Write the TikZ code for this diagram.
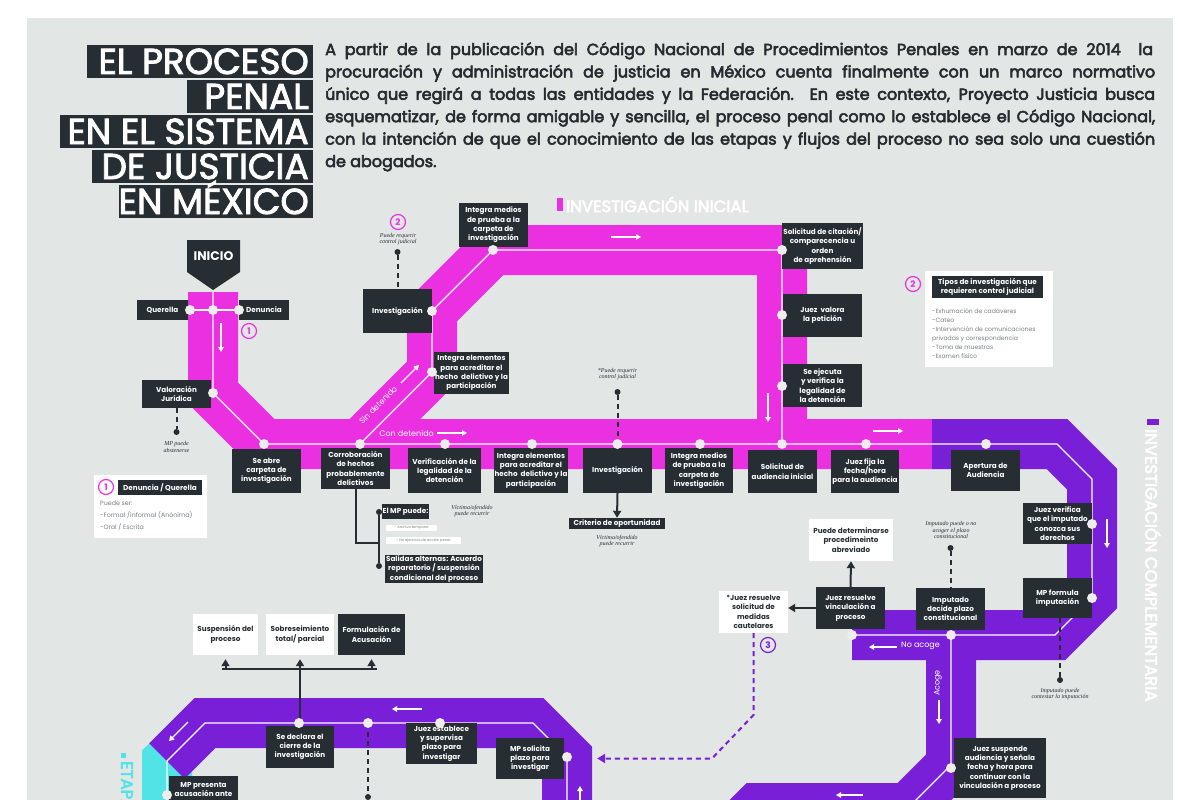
\documentclass[tikz,border=0pt]{standalone}
\usepackage{fontspec}
\setmainfont{Poppins}
\newfontfamily\parf{Poppins}[FakeBold=3.5]
\newfontfamily\titf{Poppins}[FakeBold=2.5]
\newfontfamily\handf{Liberation Serif}
\usetikzlibrary{arrows.meta}
\definecolor{bgc}{HTML}{E2E6E5}
\definecolor{pinkc}{HTML}{EA30E0}
\definecolor{purc}{HTML}{7A1FD8}
\definecolor{cyanc}{HTML}{52E3E6}
\definecolor{boxc}{HTML}{262D33}
\definecolor{dotc}{HTML}{EDEDED}
\definecolor{txtc}{HTML}{262B30}
\definecolor{grayt}{HTML}{7A7F82}
\newcommand\bxfont{\fontsize{7.2}{9.3}\selectfont\bfseries}
\newcommand\handfont{\handf\itshape\fontsize{6}{6.6}\selectfont}
\newcommand\BX[7]{\node[#1, minimum width={(#5-#3)*1pt}, minimum height={(#6-#4)*1pt}] (#2) at ({(#3+#5)/2},{(#4+#6)/2}) {#7};}
\tikzset{
  band/.style={line width=50pt, line join=miter, line cap=butt},
  thinl/.style={draw=white, line width=1.3pt, line join=miter},
  warr/.style={draw=white, line width=1.4pt, -{Triangle[length=5pt,width=5.5pt]}},
  dot/.style={circle, fill=dotc, inner sep=0pt, minimum size=10pt},
  bdot/.style={circle, fill=boxc, inner sep=0pt, minimum size=6pt},
  dsh/.style={draw=boxc, line width=2pt, dash pattern=on 5pt off 4pt},
  barw/.style={draw=boxc, line width=2pt, -{Triangle[length=7pt,width=8pt]}},
  pdash/.style={draw=purc, line width=2pt, dash pattern=on 5pt off 4pt, -{Triangle[length=8pt,width=9pt]}},
  numc/.style={circle, draw=#1, text=#1, line width=1.2pt, minimum size=15pt, inner sep=0pt, font=\bfseries\fontsize{9}{9}\selectfont},
  dbx/.style={fill=boxc, text=white, font=\bxfont, align=center, inner sep=1pt},
  wbx/.style={fill=white, text=boxc, font=\bxfont, align=center, inner sep=1pt},
  sbx/.style={fill=white, text=grayt, font=\fontsize{3.6}{4}\selectfont, align=left, inner sep=1pt},
  hand/.style={font=\handfont, text=boxc, align=center, inner sep=0pt},
  sect/.style={text=white, font=\parf\fontsize{16.5}{16.5}\selectfont, inner sep=0pt},
  bandt/.style={text=white, font=\fontsize{8}{8}\selectfont, inner sep=0pt},
  titl/.style={text=white, font=\titf\fontsize{36}{36}\selectfont, inner sep=0pt},
  ptxt/.style={text=txtc, font=\parf\fontsize{16}{16}\selectfont, inner sep=0pt},
  legt/.style={text=grayt, font=\fontsize{6.3}{12}\selectfont, align=left, inner sep=0pt},
}
\begin{document}
\begin{tikzpicture}[x=1pt,y=-1pt]
\useasboundingbox (0,0) rectangle (1200,800);
\clip (0,0) rectangle (1200,800);
\fill[white] (0,0) rectangle (1200,800);
\fill[bgc] (27,18) rectangle (1173,800);

% ---------- title ----------
\fill[boxc] (87,45) rectangle (313,78);
\fill[boxc] (187,80) rectangle (313,113);
\fill[boxc] (60,115) rectangle (313,148);
\fill[boxc] (92,150) rectangle (313,183);
\fill[boxc] (119,185) rectangle (313,218);
\node[titl, anchor=base east] (t1) at (309,74) {EL PROCESO};
\node[titl, anchor=base east] (t2) at (309,109) {PENAL};
\node[titl, anchor=base east] (t3) at (309,144) {EN EL SISTEMA};
\node[titl, anchor=base east] (t4) at (309,179) {DE JUSTICIA};
\node[titl, anchor=base east] (t5) at (309,214) {EN MÉXICO};

% ---------- paragraph ----------
\node[ptxt, anchor=base west] (p1) at (325,55) {\makebox[828pt][s]{A partir de la publicación del Código Nacional de Procedimientos Penales en marzo de 2014 \ la}};
\node[ptxt, anchor=base west] (p2) at (325,77.4) {\makebox[830pt][s]{procuración y administración de justicia en México cuenta finalmente con un marco normativo}};
\node[ptxt, anchor=base west] (p3) at (325,99.8) {\makebox[830pt][s]{único que regirá a todas las entidades y la Federación. En este contexto, Proyecto Justicia busca}};
\node[ptxt, anchor=base west] (p4) at (325,122.2) {\makebox[830pt][s]{esquematizar, de forma amigable y sencilla, el proceso penal como lo establece el Código Nacional,}};
\node[ptxt, anchor=base west] (p5) at (325,144.6) {\makebox[830pt][s]{con la intención de que el conocimiento de las etapas y flujos del proceso no sea solo una cuestión}};
\node[ptxt, anchor=base west] (p6) at (325,167) {de abogados.};

% ---------- section labels ----------
\fill[pinkc] (557,198) rectangle (563,211);
\node[sect, anchor=west] (s1) at (566,204.5) {INVESTIGACIÓN INICIAL};
\fill[purc] (1147,419) rectangle (1159,425);
\node[sect, anchor=west, rotate=-90] (s2) at (1153,429) {INVESTIGACIÓN COMPLEMENTARIA};
\fill[cyanc] (121,753) rectangle (126,758);
\node[sect, anchor=west, rotate=-90, text=cyanc] (s3) at (127,761) {ETAPA INTERMEDIA};

% ---------- bands ----------
\draw[band, pinkc] (213,292) -- (213,393) -- (264,444) -- (932,444);
\draw[band, pinkc] (360,444) -- (432,372) -- (432,311) -- (493,250) -- (782,250) -- (782,444);
\draw[band, purc] (932,444) -- (1057,444) -- (1092,479) -- (1092,598) -- (1055,635) -- (852,635);
\draw[band, purc] (951,635) -- (951,765) -- (908,808) -- (757,808) -- (700,865);
\draw[band, cyanc] (205,723) -- (167,761) -- (167,830);
\draw[band, purc] (567,830) -- (567,757) -- (533,723) -- (205,723) -- (167,761);

% ---------- thin lines ----------
\draw[thinl] (213,292) -- (213,393) -- (264,444) -- (932,444);
\draw[thinl] (360,444) -- (432,372) -- (432,311) -- (493,250) -- (782,250) -- (782,444);
\draw[thinl] (932,444) -- (1057,444) -- (1092,479) -- (1092,598) -- (1055,635) -- (852,635);
\draw[thinl] (951,635) -- (951,765) -- (908,808) -- (757,808) -- (700,865);
\draw[thinl] (567,830) -- (567,757) -- (533,723) -- (205,723) -- (167,761) -- (167,830);
\draw[thinl] (190,310) -- (239,310);

% ---------- band arrows and labels ----------
\draw[warr] (221,323) -- (221,352);
\draw[warr] (611,237) -- (641,237);
\draw[warr] (768,393) -- (768,422);
\draw[warr] (873,431) -- (903,431);
\draw[warr] (437,433) -- (467,433);
\node[bandt, anchor=east] (cd) at (434,433) {Con detenido};
\draw[warr] (401,383) -- (419,365);
\node[bandt, rotate=45] (sd) at (378,405) {Sin detenido};
\draw[warr] (1107,519) -- (1107,548);
\draw[warr] (897,647) -- (869,647);
\node[bandt, anchor=west] (na) at (901,646) {No acoge};
\draw[warr] (939,700) -- (939,724);
\node[bandt, rotate=90] (ac) at (938,683) {Acoge};
\draw[warr] (863,795) -- (836,795);
\draw[warr] (422,709) -- (392,709);
\draw[warr] (188,722) -- (169,741);
\draw[warr] (580,805) -- (580,786);

% ---------- INICIO ----------
\fill[boxc] (187,240) -- (240,240) -- (240,272) -- (213,290) -- (187,272) -- cycle;
\node[text=white, font=\bfseries\fontsize{12.5}{12.5}\selectfont, inner sep=0pt] (inicio) at (213.5,256) {INICIO};

% ---------- boxes ----------
\BX{dbx}{querella}{137}{300}{188}{320}{Querella}
\BX{dbx}{denuncia}{239}{300}{289}{320}{Denuncia}
\BX{dbx}{valor}{142}{380}{211}{408}{Valoración\\Jurídica}
\BX{dbx}{seabre}{232}{449}{301}{493}{Se abre\\carpeta de\\investigación}
\BX{dbx}{corr}{321}{448}{390}{489}{Corroboración\\de hechos\\probablemente\\delictivos}
\BX{dbx}{verif}{408}{448}{481}{493}{Verificación de la\\legalidad de la\\detención}
\BX{dbx}{integel}{494}{448}{568}{493}{Integra elementos\\para acreditar el\\hecho \ delictivo y la\\participación}
\BX{dbx}{inv}{583}{448}{652}{493}{Investigación}
\BX{dbx}{integmed}{665}{448}{733}{493}{Integra medios\\de prueba a la\\carpeta de\\investigación}
\BX{dbx}{solaud}{748}{450}{817}{493}{Solicitud de\\audiencia inicial}
\BX{dbx}{juezfija}{831}{450}{899}{493}{Juez fija la\\fecha/hora\\para la audiencia}
\BX{dbx}{apert}{951}{450}{1020}{491}{Apertura de\\Audiencia}
\BX{dbx}{crit}{569}{518}{665}{529}{Criterio de oportunidad}
\BX{dbx}{mppuede}{385}{504}{426}{519}{El MP puede:}
\BX{sbx}{mpa}{386}{525}{437}{531}{- Archivo temporal}
\BX{sbx}{mpb}{386}{537}{461}{544}{- No ejercicio de acción penal}
\BX{dbx}{salidas}{385}{555}{483}{583}{Salidas alternas: Acuerdo\\reparatorio / suspensión\\condicional del proceso}
\BX{dbx}{integmedb}{459}{203}{528}{247}{Integra medios\\de prueba a la\\carpeta de\\investigación}
\BX{dbx}{invb}{363}{289}{432}{333}{Investigación}
\BX{dbx}{integelb}{435}{352}{508}{394}{Integra elementos\\para acreditar el\\hecho \ delictivo y la\\participación}
\BX{dbx}{solcit}{783}{223}{862}{269}{Solicitud de citación/\\comparecencia u\\orden\\de aprehensión}
\BX{dbx}{valora}{783}{294}{862}{337}{Juez \ valora\\la petición}
\BX{dbx}{ejecuta}{783}{364}{862}{407}{Se ejecuta\\y verifica la\\legalidad de\\la detención}
\BX{dbx}{verifica}{1023}{503}{1092}{544}{Juez verifica\\que el imputado\\conozca sus\\derechos}
\BX{dbx}{mpform}{1023}{578}{1092}{618}{MP formula\\imputación}
\BX{dbx}{imput}{916}{588}{985}{630}{Imputado\\decide plazo\\constitucional}
\BX{dbx}{jres}{816}{587}{885}{629}{Juez resuelve\\vinculación a\\proceso}
\BX{wbx}{abrev}{809}{519}{893}{561}{Puede determinarse\\procedimeinto\\abreviado}
\BX{wbx}{medidas}{719}{591}{788}{633}{*Juez resuelve\\solicitud de\\medidas\\cautelares}
\BX{dbx}{suspende}{954}{738}{1046}{798}{Juez suspende\\audiencia y señala\\fecha y hora para\\continuar con la\\vinculación a proceso}
\BX{dbx}{cierre}{266}{726}{334}{768}{Se declara el\\cierre de la\\investigación}
\BX{dbx}{establece}{406}{723}{477}{764}{Juez establece\\y supervisa\\plazo para\\investigar}
\BX{dbx}{mpsol}{496}{738}{564}{779}{MP solicita\\plazo para\\investigar}
\BX{wbx}{susp}{193}{614}{258}{655}{Suspensión del\\proceso}
\BX{wbx}{sobre}{266}{614}{334}{655}{Sobreseimiento\\total/ parcial}
\BX{dbx}{formul}{338}{614}{405}{655}{Formulación de\\Acusación}
\fill[boxc] (169,776) rectangle (238,812);
\node[text=white, font=\bxfont, align=center, inner sep=0pt, anchor=north] (mppres) at (203.5,782) {MP presenta\\acusación ante};

% ---------- legends ----------
\fill[white] (94,475) rectangle (207,538);
\node[numc=pinkc] (n1b) at (106,487) {1};
\BX{dbx}{leg1}{118}{480}{202}{495}{Denuncia / Querella}
\node[legt, anchor=north west] (leg1t) at (100,501) {Puede ser:\\-Formal /informal (Anónima)\\-Oral / Escrita};
\fill[white] (925,271) rectangle (1053,367);
\node[numc=pinkc] (n2b) at (913,284) {2};
\BX{dbx}{leg2}{932}{276}{1043}{298}{Tipos de investigación que\\requieren control judicial}
\node[legt, anchor=north west, font=\fontsize{6.1}{9}\selectfont] (leg2t) at (932,308) {-Exhumación de cadáveres\\-Cateo\\-Intervención de comunicaciones\\privadas y correspondencia\\-Toma de muestras\\-Examen físico};

% ---------- numbered circles ----------
\node[numc=pinkc] (n1) at (249,331) {1};
\node[numc=pinkc] (n2) at (398,222) {2};
\node[numc=purc] (n3) at (768,645) {3};

% ---------- pins and notes ----------
\node[bdot] (pin1) at (176.5,432) {};
\draw[dsh] (valor.south) -- (pin1);
\node[hand] (h1) at (176.5,447) {MP puede\\abstenerse};
\node[bdot] (pin2) at (397.5,252) {};
\draw[dsh] (pin2) -- (invb.north);
\node[hand] (h2) at (398,239) {Puede requerir\\control judicial};
\node[bdot] (pin3) at (617.5,392) {};
\draw[dsh] (pin3) -- (617.5,444);
\node[hand] (h3) at (617.5,374) {*Puede requerir\\control judicial};
\node[hand] (h4) at (472,511) {Víctima/ofendido\\puede recurrir};
\node[hand] (h5) at (617,541) {Víctima/ofendido\\puede recurrir};
\node[bdot] (pin4) at (950.5,548) {};
\draw[dsh] (pin4) -- (imput.north);
\node[hand] (h6) at (951,530) {Imputado puede o no\\acoger el plazo\\constitucional};
\node[bdot] (pin5) at (1060,680) {};
\draw[dsh] (mpform.south -| pin5) -- (pin5);
\node[hand] (h7) at (1060,694) {Imputado puede\\contestar la imputación};
\node[bdot] (pin6) at (368,797) {};
\draw[dsh] (368,723) -- (pin6);

% ---------- black connectors ----------
\draw[barw] (inv.south) -- (crit.north);
\coordinate (mpj) at (379,543);
\node[bdot] (mpd1) at (379,512) {};
\node[bdot] (mpd2) at (379,566) {};
\draw[draw=boxc, line width=2pt] (corr.south) |- (mpj);
\draw[draw=boxc, line width=2pt] (mpd1) -- (mpd2);
\draw[barw] (jres.north) -- (abrev.south);
\draw[barw] (jres.west) -- (jres.west -| medidas.east);
\coordinate (barm) at (300,669);
\coordinate (barl) at (222,669);
\coordinate (barr) at (377,669);
\draw[draw=boxc, line width=2pt] (300,723) -- (barm);
\draw[draw=boxc, line width=2pt] (barl) -- (barr);
\draw[barw, shorten >=4pt] (susp.south |- barm) -- (susp.south);
\draw[barw, shorten >=4pt] (sobre.south |- barm) -- (sobre.south);
\draw[barw, shorten >=4pt] (formul.south |- barm) -- (formul.south);
\coordinate (pc1) at (753.5,715);
\coordinate (pc2) at (712,758.5);
\draw[pdash, shorten >=33pt] (medidas.south) -- (pc1) -- (pc2) -- (mpsol.east);

% ---------- dots ----------
\foreach \n/\x/\y in {a/190/310, b/213/310, c/239/310, d/213/393, e/264/444, f/360/444, g/445/444, h/532/444, i/617.5/444, j/700/444, k/782/444, l/866/444,
  m/432/372, n/432/311, o/493/250, p/782/250, q/782/315, r/782/386,
  s/986/444, t/1092/524, u/1092/598, v/951/635, w/852/635, x/951/768,
  y/299/723, z/368/723, aa/440/723, ab/567/757, ac/167/795}
  \node[dot] (dot\n) at (\x,\y) {};
\end{tikzpicture}
\end{document}
